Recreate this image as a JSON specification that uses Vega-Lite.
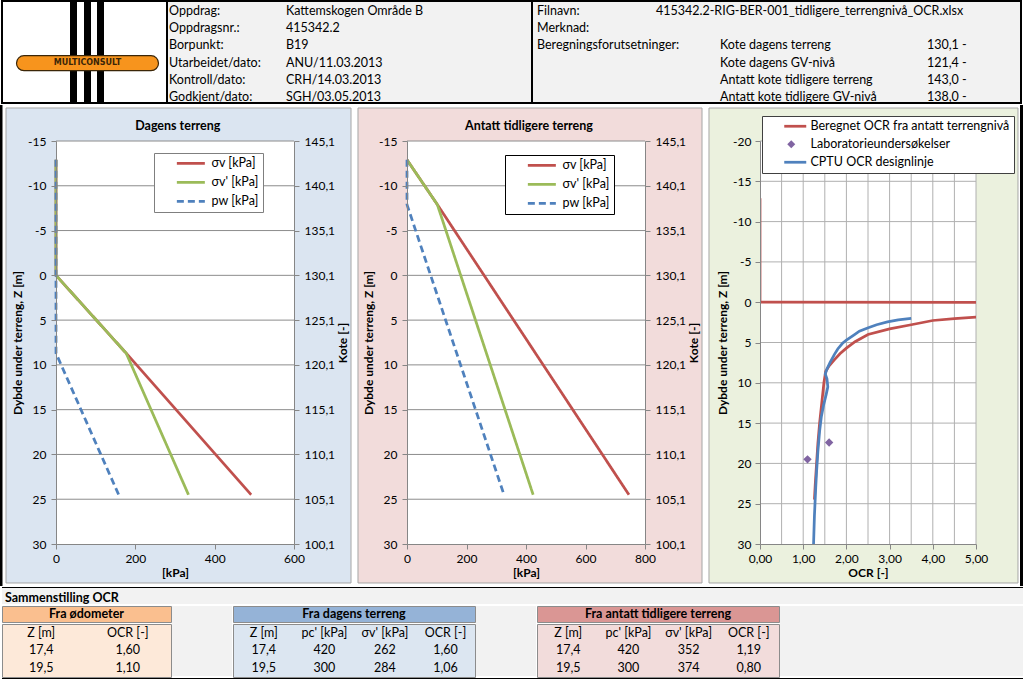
{
"$schema": "https://vega.github.io/schema/vega-lite/v6.json",
"padding": 0,
"background": "#ffffff",
"config": {
  "font": "Lato",
  "locale": {"number": {"decimal": ",", "thousands": " ", "grouping": [3], "currency": ["", " kr"], "minus": "-"}},
  "view": {"stroke": null},
  "axis": {"labelFontSize": 12, "titleFontSize": 12, "titleFontWeight": "bold", "labelColor": "#000", "titleColor": "#000", "domainColor": "#868686", "tickColor": "#868686", "tickSize": 5, "grid": false, "labelFlush": false, "labelOverlap": false, "labelPadding": 4},
  "text": {"color": "#000"}
},
"datasets": {
  "one": [{}],
  "info": [{"c":0,"r":0,"t":"Oppdrag:"},{"c":1,"r":0,"t":"Kattemskogen Område B"},{"c":0,"r":1,"t":"Oppdragsnr.:"},{"c":1,"r":1,"t":"415342.2"},{"c":0,"r":2,"t":"Borpunkt:"},{"c":1,"r":2,"t":"B19"},{"c":0,"r":3,"t":"Utarbeidet/dato:"},{"c":1,"r":3,"t":"ANU/11.03.2013"},{"c":0,"r":4,"t":"Kontroll/dato:"},{"c":1,"r":4,"t":"CRH/14.03.2013"},{"c":0,"r":5,"t":"Godkjent/dato:"},{"c":1,"r":5,"t":"SGH/03.05.2013"}],
  "right": [{"c":0,"r":0,"t":"Filnavn:"},{"c":1,"r":0,"t":"415342.2-RIG-BER-001_tidligere_terrengnivå_OCR.xlsx"},{"c":0,"r":1,"t":"Merknad:"},{"c":0,"r":2,"t":"Beregningsforutsetninger:"},{"c":2,"r":2,"t":"Kote dagens terreng"},{"c":3,"r":2,"t":"130,1 -"},{"c":2,"r":3,"t":"Kote dagens GV-nivå"},{"c":3,"r":3,"t":"121,4 -"},{"c":2,"r":4,"t":"Antatt kote tidligere terreng"},{"c":3,"r":4,"t":"143,0 -"},{"c":2,"r":5,"t":"Antatt kote tidligere GV-nivå"},{"c":3,"r":5,"t":"138,0 -"}],
  "p1": [
    {"s":"σv [kPa]","i":0,"kPa":0,"z":-12.9},{"s":"σv [kPa]","i":1,"kPa":0,"z":0},{"s":"σv [kPa]","i":2,"kPa":177,"z":8.7},{"s":"σv [kPa]","i":3,"kPa":492,"z":24.5},
    {"s":"σv' [kPa]","i":0,"kPa":0,"z":-12.9},{"s":"σv' [kPa]","i":1,"kPa":0,"z":0},{"s":"σv' [kPa]","i":2,"kPa":177,"z":8.7},{"s":"σv' [kPa]","i":3,"kPa":334,"z":24.5},
    {"s":"pw [kPa]","i":0,"kPa":0,"z":-12.9},{"s":"pw [kPa]","i":1,"kPa":0,"z":8.7},{"s":"pw [kPa]","i":2,"kPa":158,"z":24.5}
  ],
  "p2": [
    {"s":"σv [kPa]","i":0,"kPa":0,"z":-12.9},{"s":"σv [kPa]","i":1,"kPa":102,"z":-7.9},{"s":"σv [kPa]","i":2,"kPa":746,"z":24.5},
    {"s":"σv' [kPa]","i":0,"kPa":0,"z":-12.9},{"s":"σv' [kPa]","i":1,"kPa":102,"z":-7.9},{"s":"σv' [kPa]","i":2,"kPa":424,"z":24.5},
    {"s":"pw [kPa]","i":0,"kPa":0,"z":-12.9},{"s":"pw [kPa]","i":1,"kPa":0,"z":-7.9},{"s":"pw [kPa]","i":2,"kPa":326,"z":24.5}
  ],
  "ocrRed": [
    {"s":"Beregnet OCR fra antatt terrengnivå","i":0,"ocr":0,"z":-12.9},{"s":"Beregnet OCR fra antatt terrengnivå","i":1,"ocr":0,"z":0},{"s":"Beregnet OCR fra antatt terrengnivå","i":2,"ocr":45,"z":0.2},{"s":"Beregnet OCR fra antatt terrengnivå","i":3,"ocr":9.3,"z":1.0},{"s":"Beregnet OCR fra antatt terrengnivå","i":4,"ocr":5.0,"z":1.86},{"s":"Beregnet OCR fra antatt terrengnivå","i":5,"ocr":4.5,"z":2.05},{"s":"Beregnet OCR fra antatt terrengnivå","i":6,"ocr":4.0,"z":2.27},{"s":"Beregnet OCR fra antatt terrengnivå","i":7,"ocr":3.5,"z":2.8},{"s":"Beregnet OCR fra antatt terrengnivå","i":8,"ocr":3.0,"z":3.3},{"s":"Beregnet OCR fra antatt terrengnivå","i":9,"ocr":2.5,"z":4.0},{"s":"Beregnet OCR fra antatt terrengnivå","i":10,"ocr":2.2,"z":4.9},{"s":"Beregnet OCR fra antatt terrengnivå","i":11,"ocr":2.0,"z":5.7},{"s":"Beregnet OCR fra antatt terrengnivå","i":12,"ocr":1.85,"z":6.4},{"s":"Beregnet OCR fra antatt terrengnivå","i":13,"ocr":1.72,"z":7.15},{"s":"Beregnet OCR fra antatt terrengnivå","i":14,"ocr":1.6,"z":7.9},{"s":"Beregnet OCR fra antatt terrengnivå","i":15,"ocr":1.52,"z":8.6},{"s":"Beregnet OCR fra antatt terrengnivå","i":16,"ocr":1.48,"z":10},{"s":"Beregnet OCR fra antatt terrengnivå","i":17,"ocr":1.43,"z":12.5},{"s":"Beregnet OCR fra antatt terrengnivå","i":18,"ocr":1.38,"z":15},{"s":"Beregnet OCR fra antatt terrengnivå","i":19,"ocr":1.34,"z":17.5},{"s":"Beregnet OCR fra antatt terrengnivå","i":20,"ocr":1.31,"z":20},{"s":"Beregnet OCR fra antatt terrengnivå","i":21,"ocr":1.28,"z":22.5},{"s":"Beregnet OCR fra antatt terrengnivå","i":22,"ocr":1.26,"z":24.5}
  ],
  "ocrBlue": [
    {"s":"CPTU OCR designlinje","i":0,"ocr":3.5,"z":2.0},{"s":"CPTU OCR designlinje","i":1,"ocr":3.2,"z":2.2},{"s":"CPTU OCR designlinje","i":2,"ocr":2.95,"z":2.45},{"s":"CPTU OCR designlinje","i":3,"ocr":2.7,"z":2.8},{"s":"CPTU OCR designlinje","i":4,"ocr":2.49,"z":3.2},{"s":"CPTU OCR designlinje","i":5,"ocr":2.3,"z":3.6},{"s":"CPTU OCR designlinje","i":6,"ocr":2.18,"z":4.05},{"s":"CPTU OCR designlinje","i":7,"ocr":2.0,"z":4.7},{"s":"CPTU OCR designlinje","i":8,"ocr":1.91,"z":5.1},{"s":"CPTU OCR designlinje","i":9,"ocr":1.8,"z":5.8},{"s":"CPTU OCR designlinje","i":10,"ocr":1.72,"z":6.5},{"s":"CPTU OCR designlinje","i":11,"ocr":1.62,"z":7.5},{"s":"CPTU OCR designlinje","i":12,"ocr":1.55,"z":8.3},{"s":"CPTU OCR designlinje","i":13,"ocr":1.51,"z":8.9},{"s":"CPTU OCR designlinje","i":14,"ocr":1.55,"z":9.5},{"s":"CPTU OCR designlinje","i":15,"ocr":1.57,"z":10.5},{"s":"CPTU OCR designlinje","i":16,"ocr":1.53,"z":11.5},{"s":"CPTU OCR designlinje","i":17,"ocr":1.47,"z":12.8},{"s":"CPTU OCR designlinje","i":18,"ocr":1.42,"z":14.2},{"s":"CPTU OCR designlinje","i":19,"ocr":1.38,"z":16},{"s":"CPTU OCR designlinje","i":20,"ocr":1.34,"z":18.5},{"s":"CPTU OCR designlinje","i":21,"ocr":1.31,"z":21},{"s":"CPTU OCR designlinje","i":22,"ocr":1.29,"z":23},{"s":"CPTU OCR designlinje","i":23,"ocr":1.26,"z":26.5},{"s":"CPTU OCR designlinje","i":24,"ocr":1.24,"z":30}
  ],
  "lab": [{"s":"Laboratorieundersøkelser","ocr":1.60,"z":17.4},{"s":"Laboratorieundersøkelser","ocr":1.10,"z":19.5}],
  "g45": [{"z":-15},{"z":-10},{"z":-5},{"z":0},{"z":5},{"z":10},{"z":15},{"z":20},{"z":25}],
  "g50": [{"z":-20},{"z":-15},{"z":-10},{"z":-5},{"z":0},{"z":5},{"z":10},{"z":15},{"z":20},{"z":25}],
  "gocr": [{"ocr":0.5},{"ocr":1},{"ocr":1.5},{"ocr":2},{"ocr":2.5},{"ocr":3},{"ocr":3.5},{"ocr":4},{"ocr":4.5},{"ocr":5}],
  "t1": [{"c":0,"r":0,"t":"Z [m]"},{"c":1,"r":0,"t":"OCR [-]"},{"c":0,"r":1,"t":"17,4"},{"c":1,"r":1,"t":"1,60"},{"c":0,"r":2,"t":"19,5"},{"c":1,"r":2,"t":"1,10"}],
  "t2": [{"c":0,"r":0,"t":"Z [m]"},{"c":1,"r":0,"t":"pc' [kPa]"},{"c":2,"r":0,"t":"σv' [kPa]"},{"c":3,"r":0,"t":"OCR [-]"},{"c":0,"r":1,"t":"17,4"},{"c":1,"r":1,"t":"420"},{"c":2,"r":1,"t":"262"},{"c":3,"r":1,"t":"1,60"},{"c":0,"r":2,"t":"19,5"},{"c":1,"r":2,"t":"300"},{"c":2,"r":2,"t":"284"},{"c":3,"r":2,"t":"1,06"}],
  "t3": [{"c":0,"r":0,"t":"Z [m]"},{"c":1,"r":0,"t":"pc' [kPa]"},{"c":2,"r":0,"t":"σv' [kPa]"},{"c":3,"r":0,"t":"OCR [-]"},{"c":0,"r":1,"t":"17,4"},{"c":1,"r":1,"t":"420"},{"c":2,"r":1,"t":"352"},{"c":3,"r":1,"t":"1,19"},{"c":0,"r":2,"t":"19,5"},{"c":1,"r":2,"t":"300"},{"c":2,"r":2,"t":"374"},{"c":3,"r":2,"t":"0,80"}]
},
"concat": [
  {"hconcat": [
    {"width": 165, "height": 102, "view": {"fill": "#ffffff", "stroke": "#000000", "strokeWidth": 2},
     "layer": [
       {"data": {"values": [{"b":0},{"b":1},{"b":2}]}, "mark": {"type": "rect", "color": "#000000", "x2Offset": 7},
        "encoding": {"x": {"field": "b", "type": "quantitative", "scale": {"domain": [0,1,2], "range": [68,82,95], "nice": false, "zero": false}, "axis": null}, "x2": {"field": "b"}}},
       {"data": {"values": [{"n":"MULTICONSULT"}]}, "mark": {"type": "point", "shape": "M-0.75625,0.04625H0.83125A0.09375,0.09375,0,0,1,0.83125,0.23375H-0.75625A0.09375,0.09375,0,0,1,-0.75625,0.04625Z", "size": 25600, "filled": true, "fill": "#f7941d", "stroke": "#3b2608", "strokeWidth": 1.2, "opacity": 1}},
       {"data": {"values": [{"n":"MULTICONSULT"}]}, "mark": {"type": "text", "font": "DejaVu Sans", "fontSize": 8, "fontWeight": "bold", "color": "#3b2608", "dx": 3, "dy": 11, "align": "center", "baseline": "middle"},
        "encoding": {"text": {"field": "n"}}}
     ]},
    {"width": 365, "height": 102, "view": {"fill": "#f2f2f2", "stroke": "#000000", "strokeWidth": 2},
     "data": {"name": "info"},
     "mark": {"type": "text", "align": "left", "baseline": "middle", "fontSize": 12.5, "color": "#000000"},
     "encoding": {
       "x": {"field": "c", "type": "quantitative", "scale": {"domain": [0,1], "range": [2,119], "nice": false, "zero": false}, "axis": null},
       "y": {"field": "r", "type": "quantitative", "scale": {"domain": [0,5], "range": [10.3,95.7], "nice": false, "zero": false}, "axis": null},
       "text": {"field": "t"}}},
    {"width": 489, "height": 102, "view": {"fill": "#f2f2f2", "stroke": "#000000", "strokeWidth": 2},
     "data": {"name": "right"},
     "mark": {"type": "text", "align": "left", "baseline": "middle", "fontSize": 12.5, "color": "#000000"},
     "encoding": {
       "x": {"field": "c", "type": "quantitative", "scale": {"domain": [0,1,2,3], "range": [5,124,188,395], "nice": false, "zero": false}, "axis": null},
       "y": {"field": "r", "type": "quantitative", "scale": {"domain": [0,5], "range": [10.3,95.7], "nice": false, "zero": false}, "axis": null},
       "text": {"field": "t"}}}
  ], "spacing": 0, "bounds": "flush"},
  {"hconcat": [
    {"width": 0.5, "height": 403, "data": {"name": "one"}, "mark": {"type": "rect", "fill": "#000000"},
     "encoding": {"x": {"datum": -2, "type": "quantitative", "scale": {"domain": [0,0.5], "nice": false, "zero": false}, "axis": null}, "x2": {"datum": 0.5}, "y": {"datum": -36, "type": "quantitative", "scale": {"domain": [0,403], "reverse": true, "nice": false, "zero": false}, "axis": null}, "y2": {"datum": 445}}},
    {"width": 238, "height": 403,
     "layer": [
       {"layer": [
         {"data": {"name": "one"}, "mark": {"type": "rect", "fill": "#ffffff"}, "encoding": {"x": {"datum": 743.7, "type": "quantitative", "scale": {"domain": [0,600], "nice": false, "zero": false}}, "x2": {"datum": 751.3}, "y": {"datum": 0, "type": "quantitative", "scale": {"domain": [-15,30], "reverse": true, "nice": false, "zero": false}}, "y2": {"datum": 1}}},
         {"data": {"name": "one"}, "mark": {"type": "rect", "fill": "#dbe5f1", "stroke": "#a6a6a6", "strokeWidth": 1}, "encoding": {"x": {"datum": -126.05, "type": "quantitative", "scale": {"domain": [0,600], "nice": false, "zero": false}}, "x2": {"datum": 743.7}, "y": {"datum": -18.685, "type": "quantitative", "scale": {"domain": [-15,30], "reverse": true, "nice": false, "zero": false}}, "y2": {"datum": 34.354}}},
         {"data": {"name": "one"}, "mark": {"type": "rect", "fill": "#ffffff"}, "encoding": {"x": {"datum": 0, "type": "quantitative", "scale": {"domain": [0,600], "nice": false, "zero": false}}, "x2": {"datum": 600}, "y": {"datum": -15, "type": "quantitative", "scale": {"domain": [-15,30], "reverse": true, "nice": false, "zero": false}}, "y2": {"datum": 30}}},
         {"data": {"values": [{"t": "Dagens terreng"}]}, "mark": {"type": "text", "fontSize": 12.5, "fontWeight": "bold", "align": "center", "baseline": "middle", "color": "#000000"}, "encoding": {"x": {"datum": 307, "type": "quantitative", "scale": {"domain": [0,600], "nice": false, "zero": false}}, "y": {"datum": -16.67, "type": "quantitative", "scale": {"domain": [-15,30], "reverse": true, "nice": false, "zero": false}}, "text": {"field": "t"}}},
         {"data": {"name": "g45"}, "mark": {"type": "rule", "color": "#8c8c8c", "strokeWidth": 1}, "encoding": {"y": {"field": "z", "type": "quantitative", "scale": {"domain": [-15,30], "reverse": true, "nice": false, "zero": false}}}},
         {"data": {"name": "p1"}, "mark": {"type": "line", "strokeWidth": 2.75},
          "encoding": {
            "x": {"field": "kPa", "type": "quantitative", "scale": {"domain": [0,600], "nice": false, "zero": false}, "axis": {"orient": "bottom", "values": [0,200,400,600], "format": "d", "title": "[kPa]", "titlePadding": 3, "labelPadding": 4, "zindex": 1}},
            "y": {"field": "z", "type": "quantitative", "scale": {"domain": [-15,30], "reverse": true, "nice": false, "zero": false}, "axis": {"orient": "left", "values": [-15,-10,-5,0,5,10,15,20,25,30], "format": "d", "title": "Dybde under terreng, Z [m]", "titlePadding": 3, "labelPadding": 5, "zindex": 1}},
            "color": {"field": "s", "type": "nominal", "scale": {"domain": ["σv [kPa]","σv' [kPa]","pw [kPa]"], "range": ["#c0504d","#9bbb59","#4f81bd"]},
              "legend": {"orient": "none", "legendX": 98, "legendY": 12, "title": null, "fillColor": "#ffffff", "strokeColor": "#7f7f7f", "padding": 4, "symbolType": "M-2.6,0H4.4", "symbolSize": 64, "symbolStrokeWidth": 2.75, "symbolOffset": 23, "labelOffset": 18, "labelFontSize": 12.5, "labelColor": "#000000", "labelLimit": 300, "rowPadding": 6,
                "encode": {"symbols": {"update": {"strokeDash": {"signal": "datum.value === 'pw [kPa]' ? [7,4] : [1,0]"}}}}}},
            "strokeDash": {"field": "s", "type": "nominal", "scale": {"domain": ["σv [kPa]","σv' [kPa]","pw [kPa]"], "range": [[1,0],[1,0],[7,4]]}, "legend": null},
            "order": {"field": "i", "type": "quantitative"}}}
       ]},
       {"data": {"name": "one"}, "mark": {"type": "point", "opacity": 0}, "encoding": {"y": {"datum": 120, "type": "quantitative", "scale": {"domain": [100.1,145.1], "nice": false, "zero": false}, "axis": {"orient": "right", "values": [100.1,105.1,110.1,115.1,120.1,125.1,130.1,135.1,140.1,145.1], "format": ".1f", "title": "Kote [-]", "titleAngle": 270, "titleBaseline": "top", "titlePadding": 3, "labelPadding": 5, "zindex": 1}}}}
     ],
     "resolve": {"scale": {"y": "independent"}}},
    {"width": 238, "height": 403,
     "layer": [
       {"layer": [
         {"data": {"name": "one"}, "mark": {"type": "rect", "fill": "#ffffff"}, "encoding": {"x": {"datum": 991.6, "type": "quantitative", "scale": {"domain": [0,800], "nice": false, "zero": false}}, "x2": {"datum": 1001.7}, "y": {"datum": 0, "type": "quantitative", "scale": {"domain": [-15,30], "reverse": true, "nice": false, "zero": false}}, "y2": {"datum": 1}}},
         {"data": {"name": "one"}, "mark": {"type": "rect", "fill": "#f2dcdb", "stroke": "#a6a6a6", "strokeWidth": 1}, "encoding": {"x": {"datum": -164.706, "type": "quantitative", "scale": {"domain": [0,800], "nice": false, "zero": false}}, "x2": {"datum": 991.597}, "y": {"datum": -18.685, "type": "quantitative", "scale": {"domain": [-15,30], "reverse": true, "nice": false, "zero": false}}, "y2": {"datum": 34.354}}},
         {"data": {"name": "one"}, "mark": {"type": "rect", "fill": "#ffffff"}, "encoding": {"x": {"datum": 0, "type": "quantitative", "scale": {"domain": [0,800], "nice": false, "zero": false}}, "x2": {"datum": 800}, "y": {"datum": -15, "type": "quantitative", "scale": {"domain": [-15,30], "reverse": true, "nice": false, "zero": false}}, "y2": {"datum": 30}}},
         {"data": {"values": [{"t": "Antatt tidligere terreng"}]}, "mark": {"type": "text", "fontSize": 12.5, "fontWeight": "bold", "align": "center", "baseline": "middle", "color": "#000000"}, "encoding": {"x": {"datum": 410, "type": "quantitative", "scale": {"domain": [0,800], "nice": false, "zero": false}}, "y": {"datum": -16.67, "type": "quantitative", "scale": {"domain": [-15,30], "reverse": true, "nice": false, "zero": false}}, "text": {"field": "t"}}},
         {"data": {"name": "g45"}, "mark": {"type": "rule", "color": "#8c8c8c", "strokeWidth": 1}, "encoding": {"y": {"field": "z", "type": "quantitative", "scale": {"domain": [-15,30], "reverse": true, "nice": false, "zero": false}}}},
         {"data": {"name": "p2"}, "mark": {"type": "line", "strokeWidth": 2.75},
          "encoding": {
            "x": {"field": "kPa", "type": "quantitative", "scale": {"domain": [0,800], "nice": false, "zero": false}, "axis": {"orient": "bottom", "values": [0,200,400,600,800], "format": "d", "title": "[kPa]", "titlePadding": 3, "labelPadding": 4, "zindex": 1}},
            "y": {"field": "z", "type": "quantitative", "scale": {"domain": [-15,30], "reverse": true, "nice": false, "zero": false}, "axis": {"orient": "left", "values": [-15,-10,-5,0,5,10,15,20,25,30], "format": "d", "title": "Dybde under terreng, Z [m]", "titlePadding": 3, "labelPadding": 5, "zindex": 1}},
            "color": {"field": "s", "type": "nominal", "scale": {"domain": ["σv [kPa]","σv' [kPa]","pw [kPa]"], "range": ["#c0504d","#9bbb59","#4f81bd"]},
              "legend": {"orient": "none", "legendX": 98, "legendY": 14, "title": null, "fillColor": "#ffffff", "strokeColor": "#000000", "padding": 4, "symbolType": "M-2.6,0H4.4", "symbolSize": 64, "symbolStrokeWidth": 2.75, "symbolOffset": 23, "labelOffset": 18, "labelFontSize": 12.5, "labelColor": "#000000", "labelLimit": 300, "rowPadding": 6,
                "encode": {"symbols": {"update": {"strokeDash": {"signal": "datum.value === 'pw [kPa]' ? [7,4] : [1,0]"}}}}}},
            "strokeDash": {"field": "s", "type": "nominal", "scale": {"domain": ["σv [kPa]","σv' [kPa]","pw [kPa]"], "range": [[1,0],[1,0],[7,4]]}, "legend": null},
            "order": {"field": "i", "type": "quantitative"}}}
       ]},
       {"data": {"name": "one"}, "mark": {"type": "point", "opacity": 0}, "encoding": {"y": {"datum": 120, "type": "quantitative", "scale": {"domain": [100.1,145.1], "nice": false, "zero": false}, "axis": {"orient": "right", "values": [100.1,105.1,110.1,115.1,120.1,125.1,130.1,135.1,140.1,145.1], "format": ".1f", "title": "Kote [-]", "titleAngle": 270, "titleBaseline": "top", "titlePadding": 3, "labelPadding": 5, "zindex": 1}}}}
     ],
     "resolve": {"scale": {"y": "independent"}}},
    {"width": 216, "height": 403,
     "layer": [
       {"data": {"name": "one"}, "mark": {"type": "rect", "fill": "#000000"}, "encoding": {"x": {"datum": 6.01852, "type": "quantitative", "scale": {"domain": [0,5], "nice": false, "zero": false}}, "x2": {"datum": 6.08796}, "y": {"datum": -24.4665, "type": "quantitative", "scale": {"domain": [-20,30], "reverse": true, "nice": false, "zero": false}}, "y2": {"datum": 35.2109}}},
       {"data": {"name": "one"}, "mark": {"type": "rect", "fill": "#ebf1de", "stroke": "#a6a6a6", "strokeWidth": 1}, "encoding": {"x": {"datum": -1.18056, "type": "quantitative", "scale": {"domain": [0,5], "nice": false, "zero": false}}, "x2": {"datum": 5.97222}, "y": {"datum": -24.094, "type": "quantitative", "scale": {"domain": [-20,30], "reverse": true, "nice": false, "zero": false}}, "y2": {"datum": 34.838}}},
       {"data": {"name": "one"}, "mark": {"type": "rect", "fill": "#ffffff"}, "encoding": {"x": {"datum": 0, "type": "quantitative", "scale": {"domain": [0,5], "nice": false, "zero": false}}, "x2": {"datum": 5}, "y": {"datum": -20, "type": "quantitative", "scale": {"domain": [-20,30], "reverse": true, "nice": false, "zero": false}}, "y2": {"datum": 30}}},
       {"data": {"name": "g50"}, "mark": {"type": "rule", "color": "#b0b0b0", "strokeWidth": 1}, "encoding": {"y": {"field": "z", "type": "quantitative", "scale": {"domain": [-20,30], "reverse": true, "nice": false, "zero": false}}}},
       {"data": {"name": "gocr"}, "mark": {"type": "rule", "color": "#b0b0b0", "strokeWidth": 1}, "encoding": {"x": {"field": "ocr", "type": "quantitative", "scale": {"domain": [0,5], "nice": false, "zero": false}}}},
       {"data": {"name": "ocrRed"}, "mark": {"type": "line", "strokeWidth": 2.75, "clip": true},
        "encoding": {
          "x": {"field": "ocr", "type": "quantitative", "scale": {"domain": [0,5], "nice": false, "zero": false}, "axis": {"orient": "bottom", "values": [0,1,2,3,4,5], "format": ".2f", "title": "OCR [-]", "titlePadding": 3, "labelPadding": 4, "zindex": 1}},
          "y": {"field": "z", "type": "quantitative", "scale": {"domain": [-20,30], "reverse": true, "nice": false, "zero": false}, "axis": {"orient": "left", "values": [-20,-15,-10,-5,0,5,10,15,20,25,30], "format": "d", "title": "Dybde under terreng, Z [m]", "titlePadding": 3, "labelPadding": 4, "zindex": 1}},
          "color": {"field": "s", "type": "nominal", "scale": {"domain": ["Beregnet OCR fra antatt terrengnivå","Laboratorieundersøkelser","CPTU OCR designlinje"], "range": ["#c0504d","#8064a2","#4f81bd"]},
            "legend": {"orient": "none", "legendX": 2, "legendY": -25, "title": null, "fillColor": "#ffffff", "strokeColor": "#404040", "padding": 4, "symbolSize": 64, "symbolStrokeWidth": 2.75, "symbolOffset": 19, "labelOffset": 13, "labelFontSize": 12.5, "labelColor": "#000000", "labelLimit": 400, "rowPadding": 5,
              "encode": {"symbols": {"update": {
                "shape": {"signal": "datum.value === 'Laboratorieundersøkelser' ? 'diamond' : 'M-1.75,0H3.75'"},
                "fill": {"signal": "datum.value === 'Laboratorieundersøkelser' ? '#8064a2' : 'transparent'"},
                "stroke": {"signal": "datum.value === 'Laboratorieundersøkelser' ? 'transparent' : (datum.value === 'CPTU OCR designlinje' ? '#4f81bd' : '#c0504d')"},
                "strokeWidth": {"signal": "datum.value === 'Laboratorieundersøkelser' ? 0 : 2.75"}}}}}},
          "order": {"field": "i", "type": "quantitative"}}},
       {"data": {"name": "lab"}, "mark": {"type": "point", "shape": "diamond", "filled": true, "size": 70, "opacity": 1},
        "encoding": {
          "x": {"field": "ocr", "type": "quantitative", "scale": {"domain": [0,5], "nice": false, "zero": false}},
          "y": {"field": "z", "type": "quantitative", "scale": {"domain": [-20,30], "reverse": true, "nice": false, "zero": false}},
          "color": {"field": "s", "type": "nominal", "scale": {"domain": ["Beregnet OCR fra antatt terrengnivå","Laboratorieundersøkelser","CPTU OCR designlinje"], "range": ["#c0504d","#8064a2","#4f81bd"]}}}},
       {"data": {"name": "ocrBlue"}, "mark": {"type": "line", "strokeWidth": 2.75},
        "encoding": {
          "x": {"field": "ocr", "type": "quantitative", "scale": {"domain": [0,5], "nice": false, "zero": false}},
          "y": {"field": "z", "type": "quantitative", "scale": {"domain": [-20,30], "reverse": true, "nice": false, "zero": false}},
          "color": {"field": "s", "type": "nominal", "scale": {"domain": ["Beregnet OCR fra antatt terrengnivå","Laboratorieundersøkelser","CPTU OCR designlinje"], "range": ["#c0504d","#8064a2","#4f81bd"]}},
          "order": {"field": "i", "type": "quantitative"}}}
     ]}
  ], "spacing": 2, "bounds": "full",
  "resolve": {"scale": {"color": "independent", "strokeDash": "independent"}, "legend": {"color": "independent", "strokeDash": "independent"}}},
  {"width": 1023, "height": 1, "view": {"fill": "#000000"}, "data": {"name": "one"}, "mark": {"type": "point", "size": 0, "strokeWidth": 0, "opacity": 0}},
  {"vconcat": [
    {"width": 1023, "height": 16, "view": {"fill": "#f2f2f2"},
     "data": {"values": [{"c":0,"r":0,"t":"Sammenstilling OCR"}]},
     "mark": {"type": "text", "align": "left", "baseline": "middle", "fontSize": 12.5, "fontWeight": "bold", "color": "#000000"},
     "encoding": {
       "x": {"field": "c", "type": "quantitative", "scale": {"domain": [0,1], "range": [3,100], "nice": false, "zero": false}, "axis": null},
       "y": {"field": "r", "type": "quantitative", "scale": {"domain": [0,1], "range": [10,15], "nice": false, "zero": false}, "axis": null},
       "text": {"field": "t"}}},
    {"hconcat": [
      {"vconcat": [
        {"width": 169, "height": 16, "view": {"fill": "#fabf8f", "stroke": "#8c8c8c", "strokeWidth": 1},
         "data": {"values": [{"t":"Fra ødometer"}]}, "mark": {"type": "text", "fontSize": 12.5, "fontWeight": "bold", "color": "#000000"}, "encoding": {"text": {"field": "t"}}},
        {"width": 169, "height": 53, "view": {"fill": "#fde9d9", "stroke": "#8c8c8c", "strokeWidth": 1},
         "data": {"name": "t1"}, "mark": {"type": "text", "fontSize": 12.5, "align": "center", "baseline": "middle", "color": "#000000"},
         "encoding": {
           "x": {"field": "c", "type": "quantitative", "scale": {"domain": [0,1], "range": [39.2,125.8], "nice": false, "zero": false}, "axis": null},
           "y": {"field": "r", "type": "quantitative", "scale": {"domain": [0,2], "range": [9.2,43.5], "nice": false, "zero": false}, "axis": null},
           "text": {"field": "t"}}}
      ], "spacing": 0},
      {"width": 60, "height": 70, "view": {"fill": "#f2f2f2"}, "data": {"name": "one"}, "mark": {"type": "point", "size": 0, "strokeWidth": 0, "opacity": 0}},
      {"vconcat": [
        {"width": 242, "height": 16, "view": {"fill": "#95b3d7", "stroke": "#8c8c8c", "strokeWidth": 1},
         "data": {"values": [{"t":"Fra dagens terreng"}]}, "mark": {"type": "text", "fontSize": 12.5, "fontWeight": "bold", "color": "#000000"}, "encoding": {"text": {"field": "t"}}},
        {"width": 242, "height": 53, "view": {"fill": "#dce6f1", "stroke": "#8c8c8c", "strokeWidth": 1},
         "data": {"name": "t2"}, "mark": {"type": "text", "fontSize": 12.5, "align": "center", "baseline": "middle", "color": "#000000"},
         "encoding": {
           "x": {"field": "c", "type": "quantitative", "scale": {"domain": [0,3], "range": [30.8,212.5], "nice": false, "zero": false}, "axis": null},
           "y": {"field": "r", "type": "quantitative", "scale": {"domain": [0,2], "range": [9.2,43.5], "nice": false, "zero": false}, "axis": null},
           "text": {"field": "t"}}}
      ], "spacing": 0},
      {"width": 60, "height": 70, "view": {"fill": "#f2f2f2"}, "data": {"name": "one"}, "mark": {"type": "point", "size": 0, "strokeWidth": 0, "opacity": 0}},
      {"vconcat": [
        {"width": 242, "height": 16, "view": {"fill": "#da9694", "stroke": "#8c8c8c", "strokeWidth": 1},
         "data": {"values": [{"t":"Fra antatt tidligere terreng"}]}, "mark": {"type": "text", "fontSize": 12.5, "fontWeight": "bold", "color": "#000000"}, "encoding": {"text": {"field": "t"}}},
        {"width": 242, "height": 53, "view": {"fill": "#f2dcdb", "stroke": "#8c8c8c", "strokeWidth": 1},
         "data": {"name": "t3"}, "mark": {"type": "text", "fontSize": 12.5, "align": "center", "baseline": "middle", "color": "#000000"},
         "encoding": {
           "x": {"field": "c", "type": "quantitative", "scale": {"domain": [0,3], "range": [31.2,211.8], "nice": false, "zero": false}, "axis": null},
           "y": {"field": "r", "type": "quantitative", "scale": {"domain": [0,2], "range": [9.2,43.5], "nice": false, "zero": false}, "axis": null},
           "text": {"field": "t"}}}
      ], "spacing": 0},
      {"width": 245, "height": 70, "view": {"fill": "#f2f2f2"}, "data": {"name": "one"}, "mark": {"type": "point", "size": 0, "strokeWidth": 0, "opacity": 0}}
    ], "spacing": 0},
    {"width": 1023, "height": 3, "view": {"fill": "#000000"}, "data": {"name": "one"}, "mark": {"type": "point", "size": 0, "strokeWidth": 0, "opacity": 0}}
  ], "spacing": 0}
],
"columns": 1,
"align": "none",
"spacing": 0
}
